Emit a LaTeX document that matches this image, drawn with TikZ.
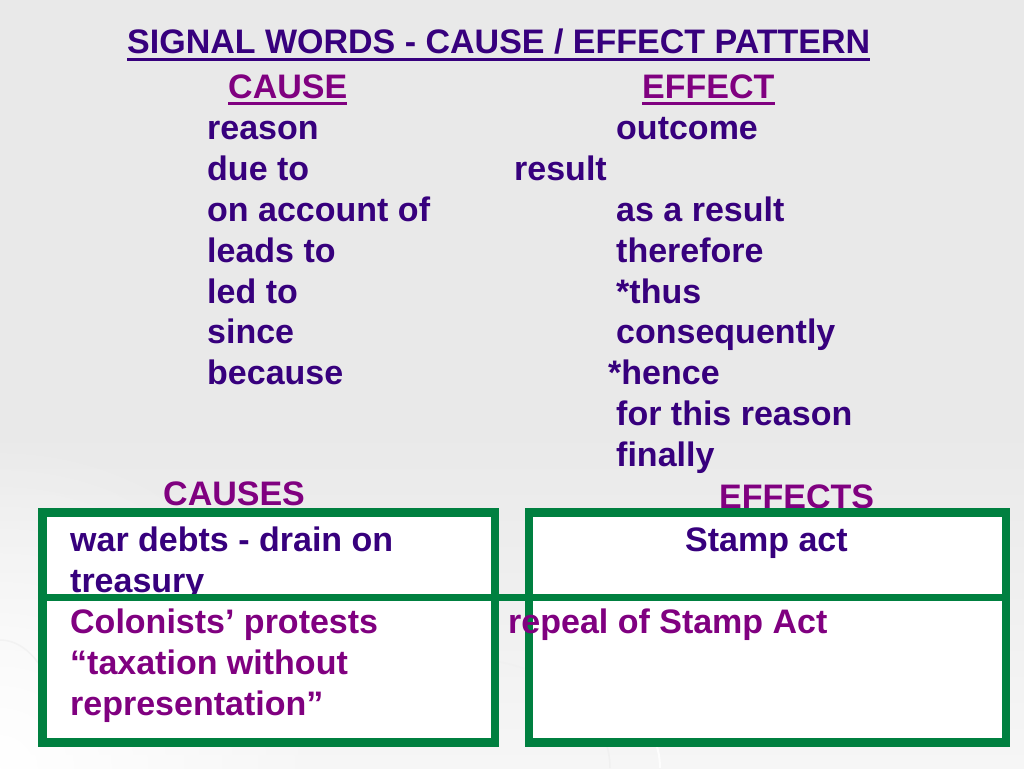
\documentclass[tikz,border=0pt]{standalone}
\usepackage{fontspec}
\setmainfont{Liberation Sans}
\usepackage{tikz}
\usetikzlibrary{fadings}

\definecolor{indigo}{RGB}{55,0,125}
\definecolor{plum}{RGB}{128,0,128}
\definecolor{frame}{RGB}{0,128,64}
\definecolor{slide}{RGB}{233,233,233}

\tikzfading[name=glow, inner color=transparent!0, outer color=transparent!100]

\tikzset{
  word/.style={anchor=base west, inner sep=0pt, text=indigo, font=\bfseries\fontsize{34}{41}\selectfont},
  head/.style={word, text=plum},
  ul/.style={line width=3pt},
  box/.style={draw=frame, fill=white, line width=8.5pt}
}

\begin{document}
\begin{tikzpicture}[x=1pt, y=-1pt]
			\useasboundingbox (0,0) rectangle (1024,768);
			\fill[slide] (0,0) rectangle (1024,430);
			\shade[top color=slide, bottom color={rgb,255:red,246;green,246;blue,246}] (0,430) rectangle (1024,768);
			\fill[white, path fading=glow] (0,768) circle (330);
			\draw[white, line width=2pt, opacity=0.8] (660,768) arc (0:-70:190 and 120);
			\draw[gray!12, line width=1.5pt] (610,768) arc (0:-80:150 and 110);
			\draw[gray!10, line width=1.5pt] (0,640) arc (-90:0:60 and 100);
			\node[word] (title) at (127,54) {SIGNAL WORDS - CAUSE / EFFECT PATTERN};
			\draw[ul, indigo] ([yshift=-5.5pt]title.base west) -- ([yshift=-5.5pt]title.base east);
			\node[head] (cause) at (228,98.5) {CAUSE};
			\draw[ul, plum] ([yshift=-5pt]cause.base west) -- ([yshift=-5pt]cause.base east);
			\node[head] (effect) at (642,98.5) {EFFECT};
			\draw[ul, plum] ([yshift=-5pt]effect.base west) -- ([yshift=-5pt]effect.base east);
			% cause words
			\node[word] (reason) at (207,139) {reason};
			\node[word] (dueto) at (207,180) {due to};
			\node[word] (account) at (207,221) {on account of};
			\node[word] (leads) at (207,262) {leads to};
			\node[word] (led) at (207,303) {led to};
			\node[word] (since) at (207,343.5) {since};
			\node[word] (because) at (207,384) {because};
			% effect words
			\node[word] (outcome) at (616,139) {outcome};
			\node[word] (result) at (514,180) {result};
			\node[word] (asresult) at (616,221) {as a result};
			\node[word] (therefore) at (616,262) {therefore};
			\node[word] (thus) at (616,303) {*thus};
			\node[word] (conseq) at (616,343.5) {consequently};
			\node[word] (hence) at (608,384) {*hence};
			\node[word] (forthis) at (616,425) {for this reason};
			\node[word] (finally) at (616,466) {finally};
			\node[head] (causes) at (163,505) {CAUSES};
			\node[head] (effects) at (719,508) {EFFECTS};
			% boxes
			\draw[box] (42.5,512.5) rectangle (495,742.5);
			\draw[box] (529,512.5) rectangle (1006,742.5);
			\node[word] (debts) at (70,551) {war debts - drain on};
			\node[word] (treasury) at (70,592) {treasury};
			\node[head] (protests) at (70,633) {Colonists’ protests};
			\node[head] (taxation) at (70,674) {“taxation without};
			\node[head] (repr) at (70,715) {representation”};
			\node[word] (stamp) at (685,551) {Stamp act};
			\node[head] (repeal) at (508,633) {repeal of Stamp Act};
			\draw[frame, line width=7pt] (38.25,597.5) -- (1010.25,597.5);
		\end{tikzpicture}
\end{document}
